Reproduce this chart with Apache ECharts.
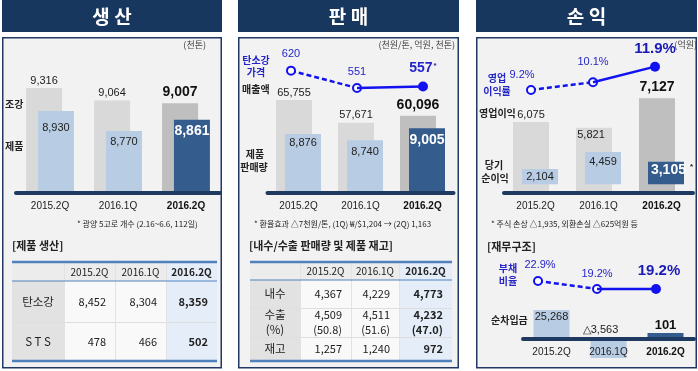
<!DOCTYPE html>
<html><head><meta charset="utf-8">
<script src="https://cdn.jsdelivr.net/npm/echarts@6/dist/echarts.min.js"></script>
<style>html,body{margin:0;padding:0;background:#fff}#c{width:698px;height:371px}</style>
</head><body><div id="c"></div>
<script>
// ---------- data ----------
const categories = ['2015.2Q', '2016.1Q', '2016.2Q'];
const crudeSteel = [9316, 9064, 9007];        // 조강 (천톤)
const productOutput = [8930, 8770, 8861];     // 제품 생산
const salesRevenue = [65755, 57671, 60096];   // 매출액 (억원)
const productSales = [8876, 8740, 9005];      // 제품 판매량 (천톤)
const carbonPrice = [620, 551, 557];          // 탄소강 가격 (천원/톤)
const opProfit = [6075, 5821, 7127];          // 영업이익 (억원)
const netIncome = [2104, 4459, 3105];         // 당기순이익 (억원)
const opMargin = [9.2, 10.1, 11.9];           // 영업이익률 (%)
const debtRatio = [22.9, 19.2, 19.2];         // 부채비율 (%)
const netDebt = [25268, -3563, 101];          // 순차입금 (억원)
// table: 제품 생산
const prodRowLabels = ['탄소강', 'S T S'];
const prodCarbon = [8452, 8304, 8359];
const prodSTS = [478, 466, 502];
// table: 내수/수출 판매량 및 제품 재고
const salesRowLabels = ['내수', '수출\n(%)', '재고'];
const domesticSales = [4367, 4229, 4773];
const exportSales = [4509, 4511, 4232];
const exportShare = [50.8, 51.6, 47.0];
const inventory = [1257, 1240, 972];

// ---------- style ----------
const KR = "'Noto Sans CJK KR', sans-serif";
const NUM = "'Liberation Sans', Arial, sans-serif";
const NAVY = '#17375e', BASE = '#1f3a60', GRAY = '#d9d9d9', GRAY2 = '#bfbfbf';
const LBLUE = '#b8cce4', DBLUE = '#345d8e', LINEBLUE = '#1212f0', TXTBLUE = '#2424c8';
const fmt = v => v.toLocaleString('en-US');

// ---------- axes ----------
function catAxis(gi, show, margin, onZero) {
  return {
    type: 'category', gridIndex: gi, data: categories, show: show, z: 5,
    axisLine: { show: true, onZero: !!onZero, lineStyle: { color: BASE, width: 4 } },
    axisTick: { show: false },
    axisLabel: {
      interval: 0, margin: margin,
      formatter: (v, i) => i === 2 ? '{b|' + v + '}' : '{n|' + v + '}',
      rich: {
        n: { fontFamily: NUM, fontSize: 10, color: '#222' },
        b: { fontFamily: NUM, fontSize: 10, fontWeight: 'bold', color: '#111' }
      }
    }
  };
}
function valAxis(gi, min, max) {
  return { type: 'value', gridIndex: gi, min: min, max: max, show: false, splitLine: { show: false } };
}

const grids = [
  { left: 16, width: 204, top: 36, height: 157 },     // 0 생산 bars
  { left: 267.5, width: 186, top: 36, height: 157 },  // 1 판매 bars
  { left: 504, width: 189, top: 36, height: 157 },    // 2 손익 bars
  { left: 258, width: 198, top: 40, height: 100 },    // 3 price line
  { left: 500, width: 186, top: 40, height: 100 },    // 4 margin line
  { left: 508.5, width: 177, top: 250, height: 60 },  // 5 debt ratio line
  { left: 523, width: 171, top: 300, height: 60 }     // 6 net debt bars
];
const xAxes = [
  catAxis(0, true, 8), catAxis(1, true, 8), catAxis(2, true, 8),
  catAxis(3, false, 0), catAxis(4, false, 0), catAxis(5, false, 0),
  catAxis(6, true, -13, true)
];
const yAxes = [
  valAxis(0, 7200, 10365), valAxis(0, 8274, 9530),
  valAxis(1, 32541, 88612), valAxis(1, 7565, 11054),
  valAxis(2, 2919, 9897), valAxis(2, -1229, 20577),
  valAxis(3, 344, 742),
  valAxis(4, 3.4, 14.99),
  valAxis(5, 9.47, 37.25),
  valAxis(6, -18290, 33970)
];

// ---------- series helpers ----------
function grayBars(xi, yi, values, gap, itemLabels) {
  return {
    type: 'bar', xAxisIndex: xi, yAxisIndex: yi, barWidth: 36, barGap: gap, z: 2,
    data: values.map((v, i) => {
      const d = { value: v, itemStyle: { color: i === 2 ? GRAY2 : GRAY } };
      if (i === 2) d.label = { fontSize: 14, fontWeight: 'bold', color: '#111', distance: 4 };
      if (itemLabels && itemLabels[i]) d.label = Object.assign(d.label || {}, itemLabels[i]);
      return d;
    }),
    label: { show: true, position: 'top', distance: 2, fontFamily: NUM, fontSize: 11, color: '#222',
      formatter: p => fmt(p.value) }
  };
}
function blueBars(xi, yi, values, gap, dist, lastLabel) {
  return {
    type: 'bar', xAxisIndex: xi, yAxisIndex: yi, barWidth: 36, barGap: gap, z: 3,
    data: values.map((v, i) => {
      const d = { value: v, itemStyle: { color: i === 2 ? DBLUE : LBLUE } };
      if (i === 2) d.label = Object.assign({ fontSize: 14, fontWeight: 'bold', color: '#fff' }, lastLabel || {});
      if (dist && dist[i] != null) d.label = Object.assign(d.label || {}, { distance: dist[i] });
      return d;
    }),
    label: { show: true, position: 'insideTop', distance: 4, fontFamily: NUM, fontSize: 11, color: '#222',
      formatter: p => fmt(p.value) }
  };
}
const hollow = { color: '#fff', borderColor: LINEBLUE, borderWidth: 2 };
function lineSeries(xi, yi, values, fmtFn, cfg) {
  // dashed from 1st to 2nd point, solid from 2nd to 3rd
  const dashed = {
    type: 'line', xAxisIndex: xi, yAxisIndex: yi, z: 6, symbol: 'circle', symbolSize: 8,
    lineStyle: { color: LINEBLUE, width: 2.5, type: [5, 3] }, itemStyle: hollow,
    data: [
      { value: values[0], label: cfg.l0 },
      { value: values[1], label: cfg.l1 },
      '-'
    ],
    label: { show: true, position: 'top', distance: 5, color: TXTBLUE, fontFamily: NUM, fontSize: 11,
      formatter: p => fmtFn(p.value) }
  };
  const solid = {
    type: 'line', xAxisIndex: xi, yAxisIndex: yi, z: 7, symbol: 'circle', symbolSize: 10,
    lineStyle: { color: LINEBLUE, width: 2.5 }, itemStyle: { color: LINEBLUE },
    data: [
      '-',
      { value: values[1], symbol: 'none', label: { show: false } },
      { value: values[2], label: cfg.l2 }
    ],
    label: { show: true, position: 'top', distance: 6, color: TXTBLUE, fontFamily: NUM, fontSize: 13,
      fontWeight: 'bold', formatter: p => fmtFn(p.value) }
  };
  return [dashed, solid];
}

const series = [];
// 생산
series.push(grayBars(0, 0, crudeSteel, '-67%'));
series.push(blueBars(0, 1, productOutput, '-67%', [11, 5, 5]));
// 판매
series.push(grayBars(1, 2, salesRevenue, '-75%'));
series.push(blueBars(1, 3, productSales, '-75%', [3, 6, 5]));
// 손익
series.push(grayBars(2, 4, opProfit, '-75%', [null, { position: 'insideTop', distance: 2, offset: [-3, 0] }, null]));
series.push(blueBars(2, 5, netIncome, '-75%', [2, 4, 1], {
  offset: [6, 0],
  formatter: p => '{a|' + fmt(p.value) + '}{s|*}',
  rich: { a: { fontFamily: NUM, fontSize: 14, fontWeight: 'bold', color: '#fff' },
          s: { fontFamily: NUM, fontSize: 8, color: '#222', padding: [0, 0, 6, 4] } }
}));
// 탄소강 가격
series.push(...lineSeries(3, 6, carbonPrice, v => String(v), {
  l0: { distance: 6 }, l1: { distance: 6 },
  l2: { formatter: p => '{a|' + p.value + '}{s|*}',
        rich: { a: { fontFamily: NUM, fontSize: 14, fontWeight: 'bold', color: TXTBLUE },
                s: { fontFamily: NUM, fontSize: 8, color: TXTBLUE, padding: [0, 0, 6, 1] } } }
}));
// 영업이익률
series.push(...lineSeries(4, 7, opMargin, v => v.toFixed(1) + '%', {
  l0: { offset: [-9, 0], distance: 4 }, l1: { distance: 10 },
  l2: { fontSize: 15, distance: 5, color: '#1a1ab4' }
}));
// 부채비율
series.push(...lineSeries(5, 8, debtRatio, v => v.toFixed(1) + '%', {
  l0: { offset: [2, 0], distance: 6 }, l1: { distance: 5 },
  l2: { fontSize: 15, distance: 6, offset: [3, 0], color: '#1a1ab4' }
}));
// 순차입금
const debtFmt = p => p.value < 0 ? '△' + fmt(-p.value) : fmt(p.value);
series.push({
  type: 'bar', xAxisIndex: 6, yAxisIndex: 9, barWidth: 36, barGap: '-100%', barMinHeight: 19, z: 2,
  itemStyle: { color: LBLUE },
  data: [
    { value: netDebt[0], label: { position: 'insideTop', distance: 1 } },
    { value: netDebt[1], label: { position: 'top', distance: 4, offset: [-8, 0] } },
    '-'
  ],
  label: { show: true, fontFamily: NUM, fontSize: 11, color: '#222', formatter: debtFmt }
});
series.push({
  type: 'bar', xAxisIndex: 6, yAxisIndex: 9, barWidth: 36, barGap: '-100%', barMinHeight: 6, z: 2,
  itemStyle: { color: DBLUE },
  data: ['-', '-', netDebt[2]],
  label: { show: true, position: 'top', distance: 1, fontFamily: NUM, fontSize: 13, fontWeight: 'bold',
    color: '#111', formatter: debtFmt }
});

// ---------- graphic (panels, notes, tables) ----------
const G = [];
function rect(x, y, w, h, fill, stroke, lw, z) {
  G.push({ type: 'rect', z: z == null ? 0 : z, shape: { x, y, width: w, height: h },
    style: { fill: fill || 'none', stroke: stroke || null, lineWidth: lw || 0 } });
}
function hline(x1, x2, y, color, lw, z) {
  G.push({ type: 'line', z: z == null ? 1 : z, shape: { x1, y1: y, x2, y2: y }, style: { stroke: color, lineWidth: lw } });
}
function vline(x, y1, y2, color, lw, z) {
  G.push({ type: 'line', z: z == null ? 1 : z, shape: { x1: x, y1, x2: x, y2 }, style: { stroke: color, lineWidth: lw } });
}
function txt(x, y, text, o) {
  o = o || {};
  const align = o.align || 'left';
  G.push({ type: 'text', z: 10, x, y, style: {
    text, fill: o.color || '#222', fontFamily: o.family || KR, fontSize: o.size || 10,
    fontWeight: o.bold ? 'bold' : 'normal', align: align, textAlign: align,
    verticalAlign: 'middle', textVerticalAlign: 'middle', lineHeight: o.lh || undefined } });
}

const panels = [
  { x: 2, w: 220, title: '생 산' },
  { x: 238, w: 221, title: '판 매' },
  { x: 476, w: 221, title: '손 익' }
];
panels.forEach(p => {
  rect(p.x, 0, p.w, 32, NAVY);
  rect(p.x + 0.75, 37.75, p.w - 1.5, 330, '#f2f2f2', '#1f3864', 1.5);
  txt(p.x + p.w / 2, 17, p.title, { color: '#fff', size: 19, bold: true, align: 'center' });
});

// panel 1 notes
txt(206, 45, '(천톤)', { size: 9, color: '#444', align: 'right' });
txt(5, 104, '조강', { bold: true });
txt(5, 146, '제품', { bold: true });
txt(77, 224, '* 광양 5고로 개수 (2.16~6.6, 112일)', { size: 8 });
txt(12, 246, '[제품 생산]', { bold: true, size: 11 });
// panel 2 notes
txt(455, 45, '(천원/톤, 억원, 천톤)', { size: 9, color: '#444', align: 'right' });
txt(256, 60, '탄소강', { bold: true, color: TXTBLUE, align: 'center' });
txt(256, 72, '가격', { bold: true, color: TXTBLUE, align: 'center' });
txt(242, 89, '매출액', { bold: true });
txt(255, 154, '제품', { bold: true, align: 'center' });
txt(254, 167, '판매량', { bold: true, align: 'center' });
txt(254, 224, '* 환율효과 △7천원/톤, (1Q) ₩/$1,204 → (2Q) 1,163', { size: 8 });
txt(249, 246, '[내수/수출 판매량 및 제품 재고]', { bold: true, size: 11 });
// panel 3 notes
txt(697, 45, '(억원)', { size: 9, color: '#444', align: 'right' });
txt(497, 78, '영업', { bold: true, color: TXTBLUE, align: 'center' });
txt(497, 91, '이익률', { bold: true, color: TXTBLUE, align: 'center' });
txt(479, 113, '영업이익', { bold: true });
txt(494, 165, '당기', { bold: true, align: 'center' });
txt(495, 178, '순이익', { bold: true, align: 'center' });
txt(491, 224, '* 주식 손상 △1,935, 외환손실 △625억원 등', { size: 8 });
txt(487, 247, '[재무구조]', { bold: true, size: 11 });
txt(508, 268, '부채', { bold: true, color: TXTBLUE, align: 'center' });
txt(508, 281, '비율', { bold: true, color: TXTBLUE, align: 'center' });
txt(491, 320, '순차입금', { bold: true });

// tables
function table(colX, rowY, rowLabels, cells) {
  const x0 = colX[0], x4 = colX[4], y0 = rowY[0], yE = rowY[rowY.length - 1];
  rect(x0, y0, x4 - x0, yE - y0, '#f9f9f9', null, 0, 0);
  rect(x0, y0, colX[3] - x0, rowY[1] - y0, '#ececec', null, 0, 0);
  rect(x0, rowY[1], colX[1] - x0, yE - rowY[1], '#e2e2e2', null, 0, 0);
  rect(colX[3], y0, x4 - colX[3], yE - y0, '#e5eef8', null, 0, 0);
  for (let r = 2; r < rowY.length - 1; r++) hline(x0, x4, rowY[r] + 0.5, '#dedede', 1);
  for (let c = 1; c < 4; c++) vline(colX[c] + 0.5, y0, yE, '#e2e2e2', 1);
  hline(x0, x4, rowY[1], '#4f81bd', 1.2, 2);
  hline(x0, x4, y0, '#4f81bd', 2.5, 2);
  hline(x0, x4, yE, '#4f81bd', 2.5, 2);
  categories.forEach((c, i) => {
    txt((colX[i + 1] + colX[i + 2]) / 2, (y0 + rowY[1]) / 2 + 0.5, c, { size: 10, bold: i === 2, align: 'center' });
  });
  rowLabels.forEach((lab, r) => {
    const cy = (rowY[r + 1] + rowY[r + 2]) / 2;
    txt((colX[0] + colX[1]) / 2, cy, lab, { size: 11.5, align: 'center', lh: 15 });
    cells[r].forEach((v, i) => {
      txt(colX[i + 2] - 9, cy, v, { size: 11, bold: i === 2, align: 'right', lh: 15 });
    });
  });
}
table([12, 64, 115, 166, 217], [262, 281, 322, 361], prodRowLabels,
  [prodCarbon.map(fmt), prodSTS.map(fmt)]);
table([250, 300, 351, 399, 452], [262, 280, 308, 337, 361], salesRowLabels,
  [domesticSales.map(fmt),
   exportSales.map((v, i) => fmt(v) + '\n(' + exportShare[i].toFixed(1) + ')'),
   inventory.map(fmt)]);

const chart = echarts.init(document.getElementById('c'), null, { renderer: 'canvas' });
chart.setOption({
  animation: false,
  backgroundColor: '#ffffff',
  grid: grids,
  xAxis: xAxes,
  yAxis: yAxes,
  series: series,
  graphic: { elements: G }
});
</script></body></html>
